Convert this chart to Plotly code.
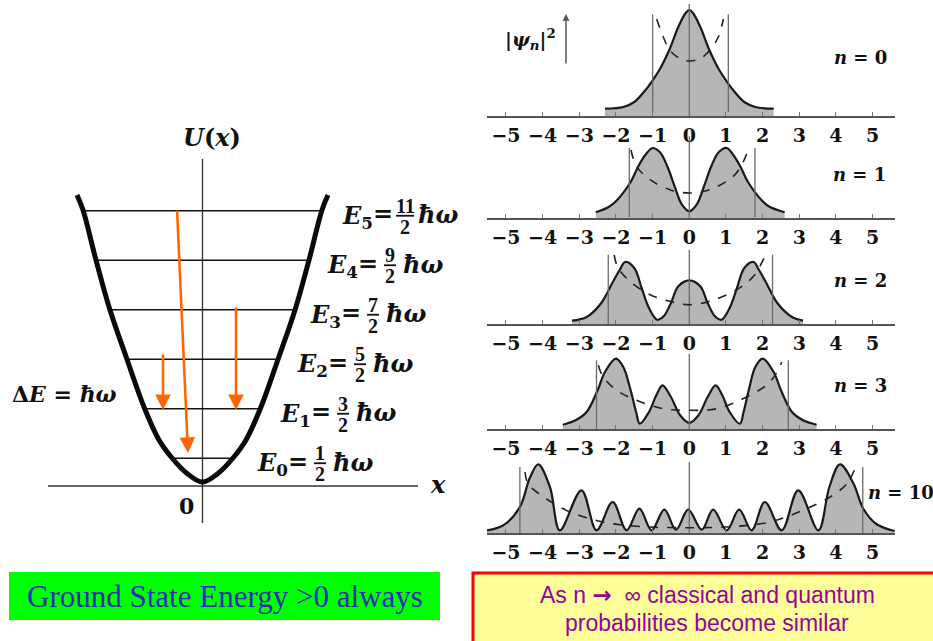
import plotly.graph_objects as go

W, H = 933, 641

# ---------------- DATA: left panel (harmonic-oscillator potential well) ----------------
level_n = [0, 1, 2, 3, 4, 5]
level_E = [0.5, 1.5, 2.5, 3.5, 4.5, 5.5]              # energy in units of hbar*omega
level_num = ["1", "3", "5", "7", "9", "11"]           # fraction numerators of the labels
level_den = ["2", "2", "2", "2", "2", "2"]
level_halfwidth = [0.87, 1.67, 2.15, 2.62, 2.99, 3.41]  # x extent of each level line

well_U = [0.02, 0.202, 0.505, 0.869, 1.535, 2.525, 3.495, 4.505, 5.515, 5.818]
well_halfwidth = [0.0, 0.457, 0.871, 1.243, 1.671, 2.171, 2.643, 3.043, 3.414, 3.586]

# orange transition arrows
trans_x_from = [-0.729, -1.129, 0.957]
trans_x_to = [-0.414, -1.129, 0.957]
trans_U_from = [5.535, 2.626, 3.576]
trans_U_to = [0.606, 1.475, 1.475]

# ---------------- DATA: right panels (|psi_n|^2, arbitrary units) ----------------
n_values = [0, 1, 2, 3, 10]
tick_vals = [-5, -4, -3, -2, -1, 0, 1, 2, 3, 4, 5]
tick_text = ["\u22125", "\u22124", "\u22123", "\u22122", "\u22121", "0", "1", "2", "3", "4", "5"]

q0_x = [-2.3, -1.8, -1.5, -1.2, -1.0, -0.8, -0.55, -0.3, -0.1, 0, 0.1, 0.3, 0.55, 0.8, 1.0, 1.2, 1.5, 1.8, 2.3]
q0_y = [7.3, 9, 14, 25.7, 35.7, 47, 65.7, 89, 103, 106, 103, 89, 65.7, 47, 35.7, 25.7, 14, 9, 7.3]

q1_x = [-2.55, -2.2, -2.0, -1.6, -1.4, -1.2, -1.0, -0.8, -0.6, -0.4, -0.2, 0, 0.2, 0.4, 0.6, 0.8, 1.02, 1.2, 1.4, 1.6, 2.0, 2.2, 2.6]
q1_y = [5.7, 11, 16.7, 36, 51, 63, 70, 65.7, 51.7, 31.7, 13.3, 6.7, 13.3, 31.7, 51.7, 65.7, 70, 63, 51, 36, 16.7, 11, 5.7]

q2_x = [-3.2, -2.8, -2.4, -2.1, -1.9, -1.75, -1.5, -1.3, -1.1, -0.88, -0.7, -0.5, -0.3, 0, 0.3, 0.5, 0.7, 0.88, 1.1, 1.3, 1.5, 1.75, 1.9, 2.1, 2.4, 2.8, 3.1]
q2_y = [3.3, 7, 21, 41, 54, 62, 56, 36, 16, 4.3, 7.7, 21, 37.7, 43.7, 37.7, 21, 7.7, 4.3, 16, 36, 56, 62, 54, 41, 21, 7, 3.3]

q3_x = [-3.45, -3.1, -2.8, -2.5, -2.3, -2.0, -1.8, -1.6, -1.45, -1.35, -1.1, -0.9, -0.73, -0.5, -0.25, 0,
        0.25, 0.5, 0.72, 0.9, 1.1, 1.38, 1.48, 1.62, 1.8, 2.0, 2.3, 2.5, 2.8, 3.1, 3.47]
q3_y = [4.3, 8.7, 17, 38.7, 57, 70.3, 62, 38.7, 17, 5.3, 17, 33.7, 43.7, 32, 13.7, 6,
        13.7, 32, 43.7, 33.7, 17, 5.3, 17, 38.7, 62, 70.3, 57, 38.7, 17, 8.7, 4.3]

q10_x = [-5.62, -5.07, -4.62, -4.35, -4.12, -3.8, -3.53, -2.94, -2.53, -2.09, -1.71, -1.36, -1.03, -0.68, -0.36, -0.03,
         0.34, 0.65, 1.02, 1.36, 1.7, 2.06, 2.52, 2.97, 3.52, 3.82, 4.11, 4.47, 4.75, 5.1, 5.6]
q10_y = [2, 7.7, 26, 55, 68.7, 46, 2.7, 42.7, 2.7, 31, 2.7, 24.3, 2.7, 23.3, 3.3, 23.3,
         3.3, 23.3, 2.7, 23.3, 2.7, 31, 2.7, 42.7, 2.7, 46, 68.7, 50, 24, 9, 2]

c0_x = [-0.89, -0.71, -0.53, -0.25, 0, 0.29, 0.56, 0.79, 0.93]
c0_y = [97, 79, 65.7, 57.3, 55, 57.3, 65.7, 79, 97]
c1_x = [-1.59, -1.44, -1.07, -0.53, 0, 0.56, 1.2, 1.43, 1.61]
c1_y = [68, 51.7, 38.3, 28.3, 25, 28.3, 41.7, 53.3, 68.3]
c2_x = [-2.05, -1.94, -1.62, -1.07, -0.53, 0, 0.56, 1.29, 1.75, 2.1]
c2_y = [69, 56, 42.7, 29.3, 22.7, 19.3, 22.7, 34.3, 47.7, 71]
c3_x = [-2.48, -2.35, -1.98, -1.44, -0.71, 0, 0.75, 1.56, 2.2, 2.52]
c3_y = [63.7, 52, 38.7, 28.7, 20.3, 18.7, 20.3, 32, 47, 67]
c10_x = [-4.48, -4.39, -3.89, -3.25, -2.35, -1.44, 0, 1.29, 2.2, 3.1, 3.84, 4.29, 4.5]
c10_y = [61, 49, 34, 21, 11, 6.7, 5.3, 6.7, 11, 22.7, 36, 49, 62.7]

turn_left = [-1.0, -1.636, -2.21, -2.53, -4.62]     # classical turning points
turn_right = [1.064, 1.79, 2.27, 2.7, 4.73]
turn_top = [101.7, 70, 69.3, 68.7, 66]
turn_bottom = [4, 1, 0, 0, 0]
center_top = [112, 81.7, 74.3, 75.3, 71]

quantum_x = [q0_x, q1_x, q2_x, q3_x, q10_x]
quantum_y = [q0_y, q1_y, q2_y, q3_y, q10_y]
classic_x = [c0_x, c1_x, c2_x, c3_x, c10_x]
classic_y = [c0_y, c1_y, c2_y, c3_y, c10_y]

# ---------------- layout constants ----------------
SERIF = "DejaVu Serif"
LX0, LXS = 202.5, 35.0      # left panel: pixel of x=0, pixels per unit
LY0, LYS = 483.0, 49.5      # left panel: pixel of U=0, pixels per unit
label_px = [255, 278, 295, 308, 325, 340]
baseline_py = [116, 218, 324, 429, 533]
PANEL_H = 115
n_label_pos = [(860, 58), (859, 175), (860, 280), (860, 385), (901, 492)]


def lx(px):
    return (px - LX0) / LXS


def ly(py):
    return (LY0 - py) / LYS


def PX(px):
    return px / W


def PY(py):
    return 1 - py / H


def ptext(px, py, text, size, family=SERIF, color="#111111", xanchor="center"):
    return dict(x=PX(px), y=PY(py), xref="paper", yref="paper", xanchor=xanchor, yanchor="middle",
                showarrow=False, text=text, font=dict(family=family, size=size, color=color))


fig = go.Figure()

# left panel axes lines
fig.add_trace(go.Scatter(x=[lx(48), lx(418)], y=[ly(486), ly(486)], mode="lines",
                         line=dict(color="#333333", width=1.3), xaxis="x", yaxis="y", hoverinfo="skip"))
fig.add_trace(go.Scatter(x=[0, 0], y=[ly(159), ly(523)], mode="lines",
                         line=dict(color="#333333", width=1.3), xaxis="x", yaxis="y", hoverinfo="skip"))

# energy levels
lev_x, lev_y = [], []
for E, hw in zip(level_E, level_halfwidth):
    lev_x += [-hw, hw, None]
    lev_y += [E, E, None]
fig.add_trace(go.Scatter(x=lev_x, y=lev_y, mode="lines", line=dict(color="#111111", width=1.7),
                         xaxis="x", yaxis="y", hoverinfo="skip"))

# potential well
wx = [-w for w in reversed(well_halfwidth)] + well_halfwidth[1:]
wy = list(reversed(well_U)) + well_U[1:]
fig.add_trace(go.Scatter(x=wx, y=wy, mode="lines", line=dict(color="#0a0a0a", width=5, shape="spline"),
                         xaxis="x", yaxis="y", hoverinfo="skip"))

annotations = []
shapes = []

# transitions
for x0, x1, u0, u1 in zip(trans_x_from, trans_x_to, trans_U_from, trans_U_to):
    annotations.append(dict(x=x1, y=u1, ax=x0, ay=u0, xref="x", yref="y", axref="x", ayref="y",
                            text="", showarrow=True, arrowhead=2, arrowsize=1.2, arrowwidth=2.6,
                            arrowcolor="#ff6600"))

# level labels
for i, (n, E) in enumerate(zip(level_n, level_E)):
    sx = lx(label_px[i])
    annotations.append(dict(x=sx, y=E, xref="x", yref="y", xanchor="left", yanchor="middle", yshift=-6,
                            text="<b><i>E</i><sub>%d</sub></b>" % n, showarrow=False,
                            font=dict(family=SERIF, size=24, color="#111111")))
    annotations.append(dict(x=sx, y=E, xref="x", yref="y", xanchor="center", yanchor="middle",
                            xshift=43, yshift=-3, text="<b>=</b>", showarrow=False,
                            font=dict(family=SERIF, size=24, color="#111111")))
    annotations.append(dict(x=sx, y=E, xref="x", yref="y", xanchor="center", yanchor="middle",
                            xshift=65, yshift=5, text="<b>%s</b>" % level_num[i], showarrow=False,
                            font=dict(family="Liberation Serif", size=20, color="#111111")))
    annotations.append(dict(x=sx, y=E, xref="x", yref="y", xanchor="center", yanchor="middle",
                            xshift=65, yshift=-16, text="<b>%s</b>" % level_den[i], showarrow=False,
                            font=dict(family="Liberation Serif", size=20, color="#111111")))
    half = 9 if len(level_num[i]) > 1 else 6
    shapes.append(dict(type="line", xref="x", yref="y", xsizemode="pixel", ysizemode="pixel",
                       xanchor=sx, yanchor=E, x0=65 - half, x1=65 + half, y0=-5, y1=-5,
                       line=dict(color="#111111", width=1.8)))
    annotations.append(dict(x=sx, y=E, xref="x", yref="y", xanchor="left", yanchor="middle",
                            xshift=76, yshift=-4, text="<b><i>\u0127\u03c9</i></b>", showarrow=False,
                            font=dict(family=SERIF, size=24, color="#111111")))

annotations.append(ptext(211.5, 137.5, "<b><i>U</i>(<i>x</i>)</b>", 24))
annotations.append(ptext(186, 506, "<b>0</b>", 22))
annotations.append(ptext(437.5, 484, "<b><i>x</i></b>", 24))
annotations.append(ptext(64.5, 394, "<b>\u0394<i>E</i> = <i>\u0127\u03c9</i></b>", 22))

# right panels
layout_axes = {}
tick_html = ["<b>%s</b>" % t for t in tick_text]
for k in range(5):
    xa = "x%d" % (k + 2)
    ya = "y%d" % (k + 2)
    b = baseline_py[k]
    layout_axes["xaxis%d" % (k + 2)] = dict(
        domain=[487 / W, 895 / W], range=[(487 - 689.3) / 36.67, (895 - 689.3) / 36.67],
        anchor=ya, showline=True, linecolor="#555555", linewidth=1.5, ticks="inside", ticklen=4,
        tickcolor="#777777", tickvals=tick_vals, ticktext=tick_html, showgrid=False, zeroline=False,
        tickfont=dict(family=SERIF, size=19, color="#111111"), ticklabelstandoff=1,
        fixedrange=True)
    layout_axes["yaxis%d" % (k + 2)] = dict(
        domain=[PY(b), PY(b - PANEL_H)], range=[0, PANEL_H], anchor=xa, visible=False, fixedrange=True)

    fig.add_trace(go.Scatter(x=quantum_x[k], y=quantum_y[k], mode="lines", fill="tozeroy",
                             fillcolor="#b6b6b6", line=dict(color="#1a1a1a", width=2.2, shape="spline"),
                             xaxis=xa, yaxis=ya, hoverinfo="skip"))
    vx = [turn_left[k], turn_left[k], None, turn_right[k], turn_right[k], None, 0, 0]
    vy = [turn_bottom[k], turn_top[k], None, turn_bottom[k], turn_top[k], None, 0, center_top[k]]
    fig.add_trace(go.Scatter(x=vx, y=vy, mode="lines", line=dict(color="#6a6a6a", width=1.3),
                             xaxis=xa, yaxis=ya, hoverinfo="skip"))
    fig.add_trace(go.Scatter(x=classic_x[k], y=classic_y[k], mode="lines",
                             line=dict(color="#222222", width=1.6, dash="dash", shape="spline"),
                             xaxis=xa, yaxis=ya, hoverinfo="skip"))
    px_, py_ = n_label_pos[k]
    annotations.append(ptext(px_, py_, "<b><i>n</i> = %d</b>" % n_values[k], 18))

annotations.append(ptext(503, 40, "<b>|<i>\u03c8</i><sub><i>n</i></sub>|<sup>2</sup></b>", 19, xanchor="left"))
annotations.append(dict(x=PX(566), y=PY(14), xref="paper", yref="paper", ax=0, ay=51,
                        axref="pixel", ayref="pixel", text="", showarrow=True, arrowhead=2,
                        arrowsize=0.9, arrowwidth=1.5, arrowcolor="#555555"))

# bottom boxes
shapes.append(dict(type="rect", xref="paper", yref="paper", x0=PX(9), x1=PX(440), y0=PY(620), y1=PY(572),
                   fillcolor="#00ff00", line=dict(width=0), layer="below"))
annotations.append(ptext(224.5, 596, "Ground State Energy >0 always", 31, family="Liberation Serif",
                         color="#2a2abf"))
shapes.append(dict(type="rect", xref="paper", yref="paper", x0=PX(473), x1=PX(945), y0=PY(660), y1=PY(573),
                   fillcolor="#ffff99", line=dict(color="#ff0000", width=3), layer="below"))
annotations.append(ptext(707, 595,
                         "As n <span style='font-family:DejaVu Sans'><b>\u2192</b></span>  \u221e classical and quantum",
                         23, family="Liberation Sans", color="#990099"))
annotations.append(ptext(707, 623, "probabilities become similar", 23, family="Liberation Sans",
                         color="#990099"))

fig.update_layout(
    width=W, height=H, margin=dict(l=0, r=0, t=0, b=0), paper_bgcolor="white", plot_bgcolor="rgba(0,0,0,0)",
    showlegend=False, font=dict(family=SERIF),
    xaxis=dict(domain=[0, 470 / W], range=[lx(0), lx(470)], visible=False, fixedrange=True),
    yaxis=dict(domain=[0, 1], range=[ly(641), ly(0)], visible=False, fixedrange=True),
    annotations=annotations, shapes=shapes, **layout_axes)

fig.write_html("out.html", config={"displayModeBar": False},
               post_script="document.body.style.margin='0px';")
